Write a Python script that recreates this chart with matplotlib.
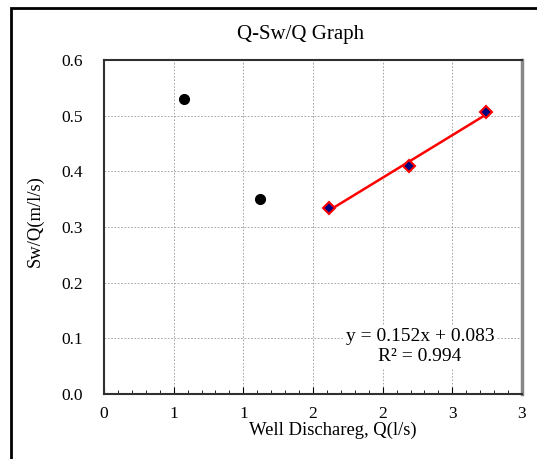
import numpy as np
import matplotlib
matplotlib.use("Agg")
import matplotlib.pyplot as plt
from matplotlib.patches import Rectangle

plt.rcParams['font.family'] = ['Liberation Serif', 'DejaVu Serif']

# early points (not used in the fit)
q_early = [0.572, 1.118]
s_early = [0.530, 0.351]

# points used for the trend line
q_fit = [1.618, 2.192, 2.742]
s_fit = [0.334, 0.410, 0.506]

x_ticks = [0, 0.5, 1.0, 1.5, 2.0, 2.5, 3.0]
x_tick_labels = ['0', '1', '1', '2', '2', '3', '3']
y_ticks = [0.0, 0.1, 0.2, 0.3, 0.4, 0.5, 0.6]
y_tick_labels = ['0.0', '0.1', '0.2', '0.3', '0.4', '0.5', '0.6']

fig = plt.figure(figsize=(5.37, 4.59), dpi=100)
ax = fig.add_axes([104 / 537, 65 / 459, 418 / 537, 334 / 459])

# outer chart frame
fig.patches.append(Rectangle((11 / 537, -0.1), 1.2, (459 - 8) / 459 + 0.1,
                             transform=fig.transFigure, fill=False,
                             edgecolor='black', lw=2))

ax.grid(True, ls=(0, (2, 2)), lw=0.6, color='#999999')
ax.set_axisbelow(True)

ax.plot(q_early, s_early, 'o', color='black', ms=7, zorder=3)

# linear fit
k, b = np.polyfit(q_fit, s_fit, 1)
xs = np.array([min(q_fit), max(q_fit)])
ax.plot(xs, k * xs + b, color='red', lw=1.8, zorder=3)
ax.plot(q_fit, s_fit, 'D', color='#000080', mec='red', mew=1.5, ms=6, zorder=4)

ax.set_xlim(0, 3)
ax.set_ylim(0, 0.6)
ax.set_xticks(x_ticks)
ax.set_xticklabels(x_tick_labels)
ax.set_xticks(np.arange(0, 3.01, 0.1), minor=True)
ax.set_yticks(y_ticks)
ax.set_yticklabels(y_tick_labels)

ax.tick_params(axis='x', which='major', direction='in', length=5, pad=9, labelsize=12.5)
ax.tick_params(axis='x', which='minor', direction='in', length=3)
ax.tick_params(axis='y', which='major', direction='in', length=0, pad=15, labelsize=12.5)

for side in ['left', 'top', 'bottom']:
    ax.spines[side].set_color('#303030')
    ax.spines[side].set_linewidth(1.5)
ax.spines['right'].set_color('#888888')
ax.spines['right'].set_linewidth(2.5)

ax.set_xlabel('Well Dischareg, Q(l/s)', fontsize=13.4)
ax.xaxis.set_label_coords((333 - 104) / 418, -(430 - 394) / 334)
ax.xaxis.label.set_va('center')
ax.set_ylabel('Sw/Q(m/l/s)', fontsize=13.4)
ax.yaxis.set_label_coords((35 - 104) / 418, (394 - 221) / 334)
ax.yaxis.label.set_va('center')

fig.text(301 / 537, 1 - 34 / 459, 'Q-Sw/Q Graph', ha='center', va='center', fontsize=15)

ax.text(0.756, 0.142, 'y = 0.152x + 0.083\nR² = 0.994', transform=ax.transAxes,
        ha='center', va='center', fontsize=14, linespacing=1.25,
        bbox=dict(facecolor='white', edgecolor='none', pad=2))

fig.savefig('out.png', dpi=100)
